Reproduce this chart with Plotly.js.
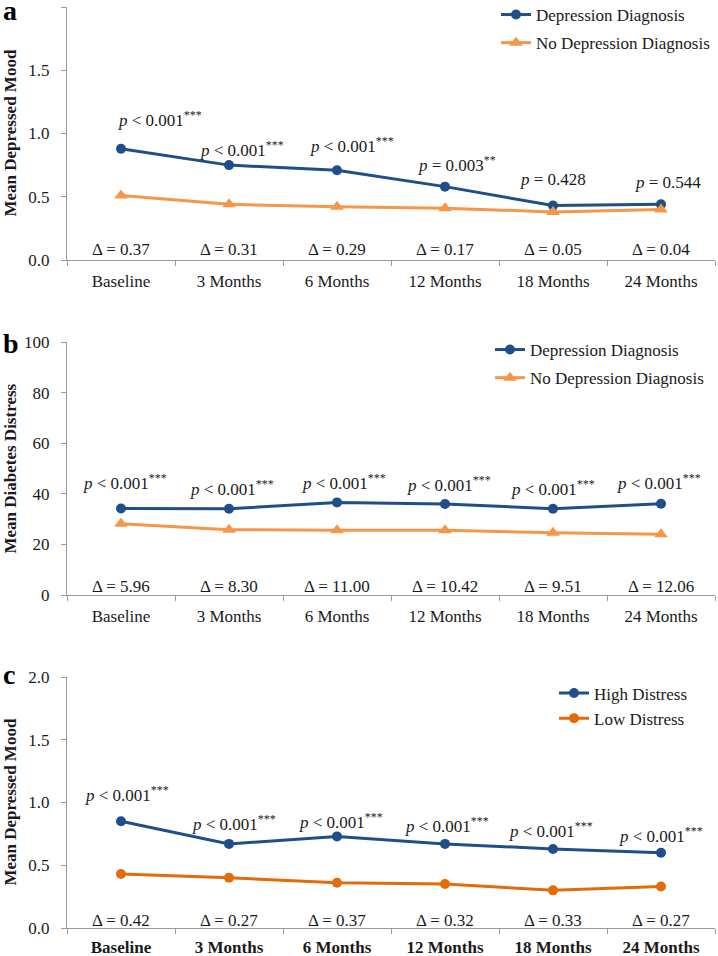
<!DOCTYPE html>
<html>
<head>
<meta charset="utf-8">
<script src="https://cdn.plot.ly/plotly-3.0.1.min.js"></script>
<style>html,body{margin:0;padding:0;background:#fff}#chart{width:718px;height:956px}</style>
</head>
<body>
<div id="chart"></div>
<script>
// ---------------- DATA ----------------
const categories = ['Baseline', '3 Months', '6 Months', '12 Months', '18 Months', '24 Months'];

// Panel a: Mean Depressed Mood by depression diagnosis
const moodDepression   = [0.88, 0.75, 0.71, 0.58, 0.43, 0.44];
const moodNoDepression = [0.51, 0.44, 0.42, 0.41, 0.38, 0.40];
const pLabelsA = ['< 0.001***', '< 0.001***', '< 0.001***', '= 0.003**', '= 0.428', '= 0.544'];
const deltaA   = ['0.37', '0.31', '0.29', '0.17', '0.05', '0.04'];

// Panel b: Mean Diabetes Distress by depression diagnosis
const distressDepression   = [34.2, 34.1, 36.6, 36.0, 34.1, 36.1];
const distressNoDepression = [28.2, 25.8, 25.6, 25.6, 24.6, 24.0];
const pLabelsB = ['< 0.001***', '< 0.001***', '< 0.001***', '< 0.001***', '< 0.001***', '< 0.001***'];
const deltaB   = ['5.96', '8.30', '11.00', '10.42', '9.51', '12.06'];

// Panel c: Mean Depressed Mood by distress level
const moodHighDistress = [0.85, 0.67, 0.73, 0.67, 0.63, 0.60];
const moodLowDistress  = [0.43, 0.40, 0.36, 0.35, 0.30, 0.33];
const pLabelsC = ['< 0.001***', '< 0.001***', '< 0.001***', '< 0.001***', '< 0.001***', '< 0.001***'];
const deltaC   = ['0.42', '0.27', '0.37', '0.32', '0.33', '0.27'];

// ---------------- STYLE / LAYOUT ----------------
const FONT = 'Liberation Serif, Times New Roman, serif';
const TXT = '#1a1a1a';
const AXC = '#9a9a9a';
const BLUE = '#1F4E89';
const ORANGE_AB = '#F79646';
const ORANGE_C = '#E36C0A';

const L = 67, W = 648, H = 956;
const px2x = px => (px - L) / W;
const py2y = py => 1 - py / H;

// label nudges (pixels)
const pShiftA = {x: [39, 13, 15, 12, 0, 7], y: [30, 16, 25, 23, 26, 22]};
const pShiftB = {x: [4, 3, 7, 4, 0, -2], y: [26, 21, 20, 20, 21, 22]};
const pShiftC = {x: [6, 5, 4, 2, -2, 0], y: [27, 21, 15, 19, 19, 18]};

function lineTrace(y, name, color, symbol, xa, ya, legend, group) {
  return {
    x: categories, y: y, name: name, type: 'scatter', mode: 'lines+markers',
    xaxis: xa, yaxis: ya, legend: legend, legendgroup: group, cliponaxis: false,
    line: {color: color, width: 3},
    marker: {color: color, symbol: symbol, size: symbol === 'triangle-up' ? 12 : 10}
  };
}

const data = [
  lineTrace(moodDepression, 'Depression Diagnosis', BLUE, 'circle', 'x', 'y', 'legend', 'a1'),
  lineTrace(moodNoDepression, 'No Depression Diagnosis', ORANGE_AB, 'triangle-up', 'x', 'y', 'legend', 'a2'),
  lineTrace(distressDepression, 'Depression Diagnosis', BLUE, 'circle', 'x2', 'y2', 'legend2', 'b1'),
  lineTrace(distressNoDepression, 'No Depression Diagnosis', ORANGE_AB, 'triangle-up', 'x2', 'y2', 'legend2', 'b2'),
  lineTrace(moodHighDistress, 'High Distress', BLUE, 'circle', 'x3', 'y3', 'legend3', 'c1'),
  lineTrace(moodLowDistress, 'Low Distress', ORANGE_C, 'circle', 'x3', 'y3', 'legend3', 'c2')
];

function xAxis(anchor, bold, standoff) {
  return {
    anchor: anchor, type: 'category', categoryorder: 'array', categoryarray: categories,
    range: [-0.5, 5.5], showline: true, linecolor: AXC, linewidth: 1,
    ticks: 'outside', tickson: 'boundaries', ticklen: 5, tickcolor: AXC,
    showgrid: false, zeroline: false, fixedrange: true,
    tickfont: {family: FONT, size: 17, color: TXT, weight: bold ? 'bold' : 'normal'},
    ticklabelstandoff: standoff
  };
}
function yAxis(anchor, domain, range, dtick, fmt) {
  return {
    anchor: anchor, domain: domain, range: range, dtick: dtick, tick0: 0, tickformat: fmt,
    showline: true, linecolor: AXC, linewidth: 1, ticks: 'outside', ticklen: 5, tickcolor: AXC,
    showgrid: false, zeroline: false, fixedrange: true,
    tickfont: {family: FONT, size: 17, color: TXT}, ticklabelstandoff: 8
  };
}

const annotations = [];
function panelAnnotations(xa, ya, blueVals, pLabels, deltas, shift, deltaShift) {
  categories.forEach((c, i) => {
    annotations.push({
      xref: xa, yref: ya, x: i, y: blueVals[i], xshift: shift.x[i], yshift: shift.y[i],
      text: '<i>p</i> ' + pLabels[i].replace(/(\*+)$/, '<sup>$1</sup>'),
      showarrow: false, xanchor: 'center', yanchor: 'middle',
      font: {family: FONT, size: 17, color: TXT}
    });
    annotations.push({
      xref: xa, yref: ya, x: i, y: 0, yshift: deltaShift,
      text: '\u0394 = ' + deltas[i], showarrow: false, xanchor: 'center', yanchor: 'middle',
      font: {family: FONT, size: 17, color: TXT}
    });
  });
}
panelAnnotations('x', 'y', moodDepression, pLabelsA, deltaA, pShiftA, 11);
panelAnnotations('x2', 'y2', distressDepression, pLabelsB, deltaB, pShiftB, 9);
panelAnnotations('x3', 'y3', moodHighDistress, pLabelsC, deltaC, pShiftC, 8);

// axis titles and panel letters
[['Mean Depressed Mood', 133.5], ['Mean Diabetes Distress', 468.5], ['Mean Depressed Mood', 802.5]].forEach(t => {
  annotations.push({xref: 'paper', yref: 'paper', x: px2x(10), y: py2y(t[1]), text: t[0],
    textangle: -90, showarrow: false, xanchor: 'center', yanchor: 'middle',
    font: {family: FONT, size: 17, color: TXT, weight: 'bold'}});
});
[['a', 10], ['b', 344], ['c', 674]].forEach(t => {
  annotations.push({xref: 'paper', yref: 'paper', x: px2x(1), y: py2y(t[1]), text: t[0],
    showarrow: false, xanchor: 'left', yanchor: 'middle',
    font: {family: FONT, size: 28, color: '#000', weight: 'bold'}});
});

const legendBase = {font: {family: FONT, size: 17, color: TXT}, bgcolor: 'rgba(0,0,0,0)',
  borderwidth: 0, xanchor: 'left', yanchor: 'top', itemclick: false, itemdoubleclick: false};

const layout = {
  width: 718, height: 956, paper_bgcolor: '#fff', plot_bgcolor: '#fff',
  margin: {l: L, r: 718 - L - W, t: 0, b: 0, autoexpand: false},
  showlegend: true,
  xaxis: xAxis('y', false, 6),
  yaxis: yAxis('x', [py2y(260), py2y(7)], [0, 2], 0.5, '.1f'),
  xaxis2: xAxis('y2', false, 6),
  yaxis2: yAxis('x2', [py2y(595), py2y(342)], [0, 100], 20, 'd'),
  xaxis3: xAxis('y3', true, 4),
  yaxis3: yAxis('x3', [py2y(928), py2y(677)], [0, 2], 0.5, '.1f'),
  legend: Object.assign({}, legendBase, {x: px2x(496), y: py2y(-3), traceorder: 'grouped', tracegroupgap: 3}),
  legend2: Object.assign({}, legendBase, {x: px2x(490), y: py2y(332), traceorder: 'grouped', tracegroupgap: 3}),
  legend3: Object.assign({}, legendBase, {x: px2x(554), y: py2y(675.5), traceorder: 'normal'}),
  annotations: annotations
};

Plotly.newPlot('chart', data, layout, {displayModeBar: false, staticPlot: true});
</script>
</body>
</html>
